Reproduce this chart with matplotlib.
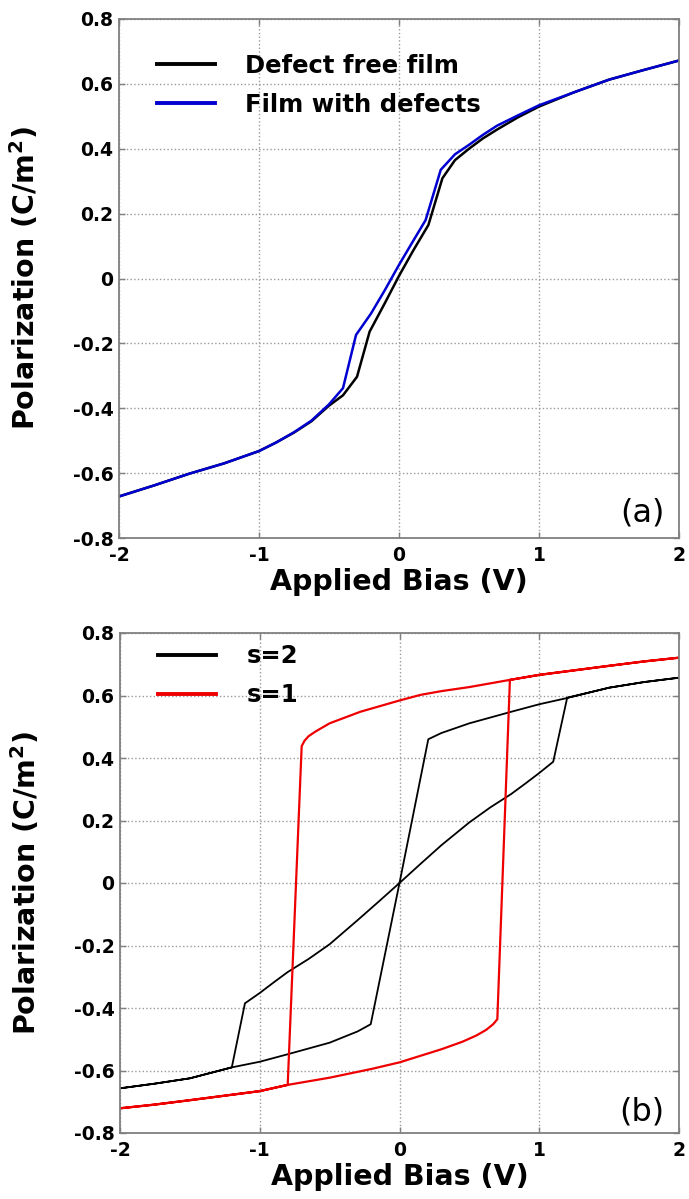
import matplotlib
matplotlib.use("Agg")
import matplotlib.pyplot as plt
from matplotlib.lines import Line2D
from matplotlib.ticker import FuncFormatter

plt.rcParams['font.family'] = ['DejaVu Sans']
plt.rcParams['axes.unicode_minus'] = False

# (a) polarization vs bias, defect free film and film with defects
bias_free = [-2.0, -1.75, -1.5, -1.25, -1.0, -0.875, -0.75, -0.625, -0.5, -0.4,
             -0.3, -0.21, -0.1, 0.0, 0.1, 0.21, 0.31, 0.4, 0.5, 0.6,
             0.7, 0.85, 1.0, 1.25, 1.5, 1.75, 2.0]
pol_free = [-0.672, -0.638, -0.602, -0.570, -0.532, -0.505, -0.475, -0.440, -0.392, -0.360,
            -0.303, -0.164, -0.075, 0.008, 0.085, 0.165, 0.309, 0.365, 0.400, 0.432,
            0.459, 0.497, 0.530, 0.574, 0.613, 0.643, 0.672]

bias_def = [-2.0, -1.75, -1.5, -1.25, -1.0, -0.875, -0.75, -0.625, -0.5, -0.40,
            -0.307, -0.2, -0.1, 0.0, 0.1, 0.19, 0.298, 0.4, 0.5, 0.6,
            0.7, 0.85, 1.0, 1.25, 1.5, 1.75, 2.0]
pol_def = [-0.672, -0.638, -0.602, -0.570, -0.532, -0.505, -0.474, -0.438, -0.388, -0.338,
           -0.174, -0.108, -0.035, 0.042, 0.115, 0.180, 0.335, 0.383, 0.412, 0.443,
           0.471, 0.503, 0.534, 0.574, 0.613, 0.643, 0.672]

# (b) hysteresis loops, s=2 (black) and s=1 (red)
bias_s2 = [2.0, 1.75, 1.5, 1.2, 1.0, 0.8, 0.5, 0.3, 0.206, 0.0, -0.206,
           -0.3, -0.5, -0.8, -1.0, -1.2, -1.5, -1.75, -2.0,
           -1.75, -1.5, -1.2, -1.106, -1.0, -0.9, -0.8, -0.65, -0.5, -0.3, -0.15, 0.0,
           0.15, 0.3, 0.5, 0.65, 0.8, 0.9, 1.0, 1.10, 1.2, 1.5, 1.75, 2.0]
pol_s2 = [0.657, 0.643, 0.625, 0.592, 0.572, 0.548, 0.511, 0.480, 0.460, 0.0, -0.452,
          -0.475, -0.511, -0.548, -0.572, -0.590, -0.625, -0.642, -0.657,
          -0.642, -0.625, -0.590, -0.385, -0.352, -0.318, -0.285, -0.243, -0.196, -0.119, -0.060, 0.0,
          0.061, 0.121, 0.194, 0.242, 0.285, 0.318, 0.352, 0.388, 0.593, 0.625, 0.643, 0.657]

bias_s1 = [2.0, 1.75, 1.5, 1.0, 0.79, 0.5, 0.3, 0.15, 0.0, -0.28, -0.5, -0.6, -0.65, -0.68, -0.70,
           -0.80, -1.0, -1.5, -1.75, -2.0,
           -1.75, -1.5, -1.0, -0.80, -0.5, -0.2, 0.0, 0.15, 0.3, 0.45, 0.55, 0.62, 0.67, 0.70,
           0.79, 1.0, 1.5, 1.75, 2.0]
pol_s1 = [0.721, 0.709, 0.695, 0.666, 0.650, 0.627, 0.614, 0.602, 0.584, 0.548, 0.511, 0.485, 0.470, 0.455, 0.438,
          -0.646, -0.666, -0.695, -0.709, -0.721,
          -0.709, -0.695, -0.666, -0.646, -0.623, -0.595, -0.574, -0.553, -0.532, -0.508, -0.488, -0.470, -0.452, -0.436,
          0.650, 0.666, 0.695, 0.709, 0.721]

yticks = [-0.8, -0.6, -0.4, -0.2, 0.0, 0.2, 0.4, 0.6, 0.8]
xticks = [-2, -1, 0, 1, 2]


def fmt(v, pos):
    if abs(v) < 1e-9:
        return "0"
    return "%g" % round(v, 2)


def style_axes(ax):
    ax.set_xlim(-2, 2)
    ax.set_ylim(-0.8, 0.8)
    ax.set_xticks(xticks)
    ax.set_yticks(yticks)
    ax.xaxis.set_major_formatter(FuncFormatter(fmt))
    ax.yaxis.set_major_formatter(FuncFormatter(fmt))
    ax.grid(True, linestyle=':', color='#9a9a9a', linewidth=1.0)
    for sp in ax.spines.values():
        sp.set_color('#808080')
        sp.set_linewidth(1.3)
    ax.tick_params(direction='in', length=4, width=1.0, color='#808080',
                   top=True, right=True, labelsize=13.5)
    ax.tick_params(axis='x', pad=6)
    ax.tick_params(axis='y', pad=4)
    for lab in ax.get_xticklabels() + ax.get_yticklabels():
        lab.set_fontweight('bold')
    ax.set_xlabel("Applied Bias (V)", fontsize=20.5, fontweight='bold', labelpad=2)
    ax.set_ylabel(r"Polarization (C/m$^\mathbf{2}$)", fontsize=20.5,
                  fontweight='bold', labelpad=23)


fig = plt.figure(figsize=(6.89, 11.99), dpi=100)

ax1 = fig.add_axes([119 / 689, 1 - 538 / 1199, 560 / 689, 519 / 1199])
ax1.plot(bias_free, pol_free, color='black', linewidth=1.8)
ax1.plot(bias_def, pol_def, color='#0000d0', linewidth=1.8)
style_axes(ax1)
h1 = [Line2D([], [], color='black', linewidth=2.8),
      Line2D([], [], color='#0000d0', linewidth=2.8)]
ax1.legend(h1, ["Defect free film", "Film with defects"], loc='upper left',
           bbox_to_anchor=(0.05, 0.952), frameon=False, handlelength=2.4,
           handletextpad=1.25, labelspacing=0.62, borderaxespad=0,
           prop={'weight': 'bold', 'size': 17.5})
ax1.text(0.934, 0.048, "(a)", transform=ax1.transAxes, ha='center', va='center',
         fontsize=23)

ax2 = fig.add_axes([120 / 689, 1 - 1133 / 1199, 559 / 689, 500 / 1199])
ax2.plot(bias_s2, pol_s2, color='black', linewidth=1.3)
ax2.plot(bias_s1, pol_s1, color='#ee0000', linewidth=1.6)
style_axes(ax2)
h2 = [Line2D([], [], color='black', linewidth=2.8),
      Line2D([], [], color='#ee0000', linewidth=2.8)]
ax2.legend(h2, ["s=2", "s=1"], loc='upper left',
           bbox_to_anchor=(0.05, 0.997), frameon=False, handlelength=2.4,
           handletextpad=1.25, labelspacing=0.62, borderaxespad=0,
           prop={'weight': 'bold', 'size': 17.5})
ax2.text(0.934, 0.042, "(b)", transform=ax2.transAxes, ha='center', va='center',
         fontsize=23)

fig.savefig("out.png", dpi=100)
